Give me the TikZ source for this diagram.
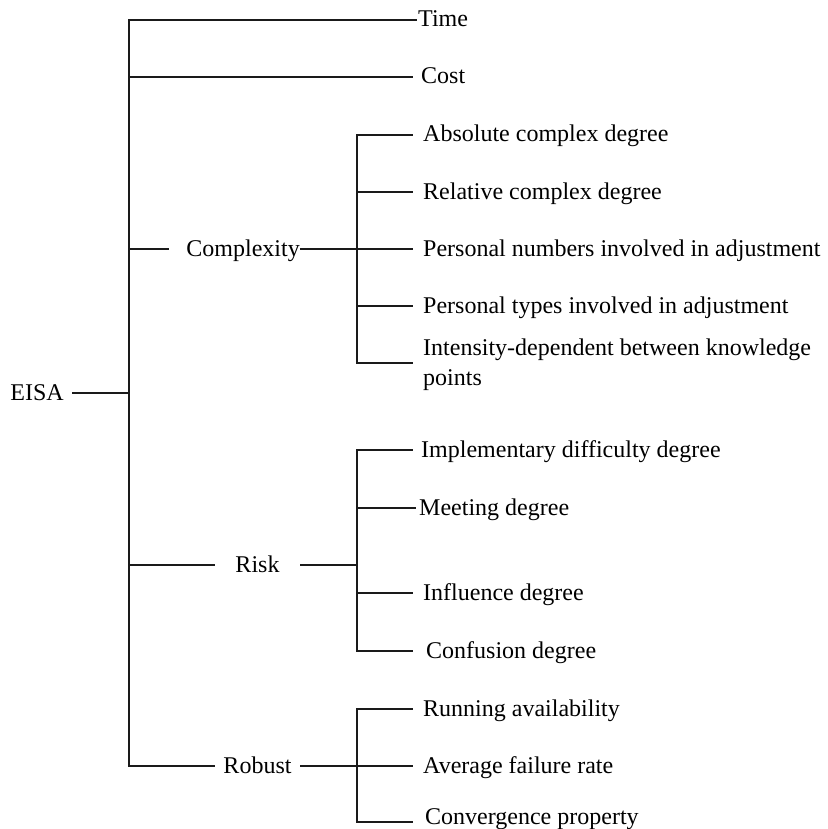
\documentclass[tikz,border=0pt]{standalone}
\usepackage{fontspec}
\setmainfont{Liberation Serif}
\usepackage{xcolor}
\usepackage{tikz}
\definecolor{treeink}{HTML}{1A1A1A}
\newcommand{\treefont}{\fontsize{24}{30}\selectfont}
\tikzset{
  branch/.style={draw=treeink,line width=1.2pt},
  root label/.style={anchor=east,inner xsep=8pt,font=\treefont,
    text height=19pt,text depth=5pt},
  group label/.style={inner xsep=0pt,font=\treefont,
    text height=19pt,text depth=5pt},
  leaf/.style={anchor=west,inner xsep=10pt,font=\treefont,
    text height=19pt,text depth=5pt,align=left}
}

\begin{document}
\begin{tikzpicture}[x=1pt,y=-1pt]
  \useasboundingbox (0,0) rectangle (827,829);
  \coordinate (trunk) at (129,393);
  \coordinate (cj) at (357,249);
  \coordinate (rj) at (357,565);
  \coordinate (bj) at (357,766);
  \node[root label] (eisa) at (72,393) {EISA};
  \node[leaf,inner xsep=1pt] (time) at (417,20) {Time};
  \node[leaf,inner xsep=8pt] (cost) at (413,77) {Cost};
  \node[group label,anchor=east,text width=131pt,align=right] (cplx) at (300,249) {Complexity};
  \node[group label,text width=85pt,align=center] (risk) at (257.5,565) {Risk};
  \node[group label,text width=85pt,align=center] (robust) at (257.5,766) {Robust};
  \draw[branch] (eisa.east) -- (trunk);
  \foreach \p in {time,cost,cplx,risk,robust}
    \draw[branch] (trunk) |- (\p.west);
  \draw[branch] (cplx.east) -- (cj) (risk.east) -- (rj) (robust.east) -- (bj);
  % complexity
  \foreach \n/\y/\t in {abs/135/Absolute complex degree,
      rel/192/Relative complex degree,
      pnum/249/Personal numbers involved in adjustment,
      ptype/306/Personal types involved in adjustment} {
    \node[leaf] (\n) at (413,\y) {\t};
    \draw[branch] (cj) |- (\n.west);
  }
  \node[leaf,text height=49pt] (dep) at (413,363)
    {Intensity-dependent between knowledge\\points};
  \draw[branch] (cj) |- (dep.west);
  % risk
  \node[leaf,inner xsep=8pt] (impl) at (413,450) {Implementary difficulty degree};
  \node[leaf,inner xsep=3pt] (meet) at (416,508) {Meeting degree};
  \node[leaf] (infl) at (413,593) {Influence degree};
  \node[leaf,inner xsep=13pt] (conf) at (413,651) {Confusion degree};
  \foreach \p in {impl,meet,infl,conf}
    \draw[branch] (rj) |- (\p.west);
  % robust
  \node[leaf] (avail) at (413,709) {Running availability};
  \node[leaf] (fail) at (413,766) {Average failure rate};
  \node[leaf,inner xsep=12pt,text depth=15pt] (conv) at (413,822) {Convergence property};
  \foreach \p in {avail,fail,conv}
    \draw[branch] (bj) |- (\p.west);
\end{tikzpicture}
\end{document}
